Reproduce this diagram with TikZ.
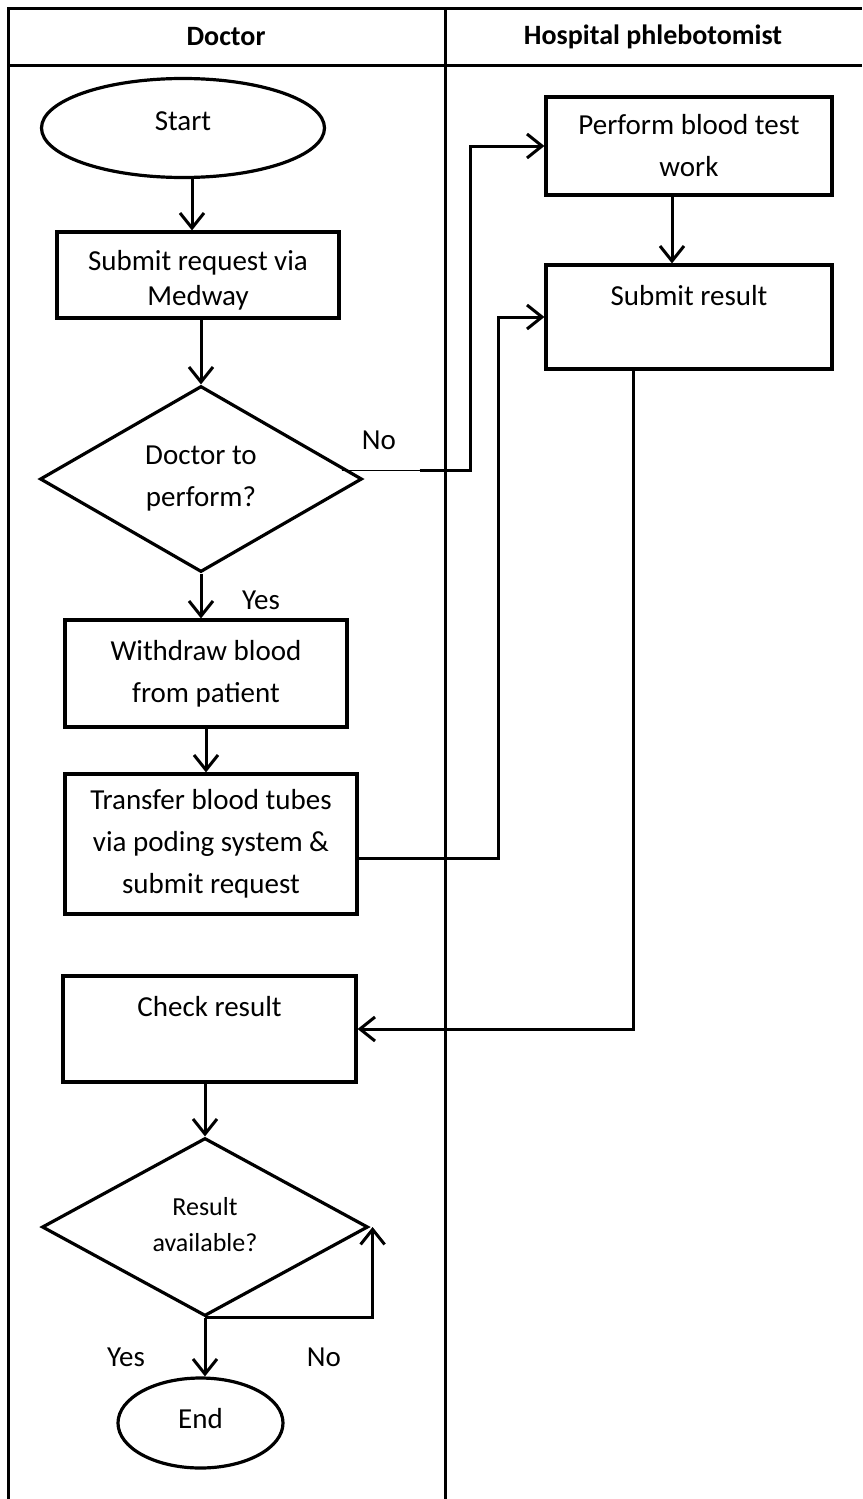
\documentclass[tikz,border=0pt]{standalone}
\usepackage{fontspec}
\setmainfont{Carlito}
\usetikzlibrary{shapes.geometric,arrows.meta,calc}
\begin{document}
\begin{tikzpicture}[x=1pt,y=-1pt,
  every node/.style={font=\fontsize{29}{42}\selectfont},
  box/.style={draw,line width=3.2pt,rectangle,inner sep=0pt,align=center},
  box1/.style={draw,line width=3.2pt,rectangle,inner sep=0pt},
  term/.style={draw,line width=3.2pt,ellipse,inner sep=0pt},
  decide/.style={draw,line width=3.2pt,diamond,inner sep=0pt,align=center},
  arr/.style={line width=3pt,-{Straight Barb[length=15pt,width=24pt]}},
  lane/.style={line width=3pt},
  lbl/.style={inner sep=0pt},
  hdr/.style={font=\fontsize{28}{34}\selectfont\bfseries}]
\useasboundingbox (0,0) rectangle (862,1499);

% swimlane table
\draw[lane] (8,1499) -- (8,8) -- (862,8);
\draw[lane] (445,8) -- (445,1499);
\draw[lane] (8,65) -- (862,65);
\node[hdr] (hdoc) at (226,37) {Doctor};
\node[hdr] (hphl) at (653,37) {Hospital phlebotomist};

% doctor lane
\node[term,minimum width=283pt,minimum height=99pt,text height=20pt,text depth=16pt] (start) at (183,128) {Start};
\node[box,minimum width=282pt,minimum height=86pt,font=\fontsize{29}{35}\selectfont] (submit) at (198,275) {\rule{0pt}{31pt}Submit request via\\Medway};
\node[decide,minimum width=322pt,minimum height=186pt,aspect=1.73] (dia1) at (201,479) {Doctor to\\perform?};
\node[box,minimum width=282pt,minimum height=107pt] (withdraw) at (206,673.5) {Withdraw blood\\from patient};
\node[box,minimum width=292pt,minimum height=140pt] (transfer) at (211,844) {Transfer blood tubes\\via poding system \&\\submit request};
\node[box1,minimum width=293pt,minimum height=106pt,text height=40pt,text depth=66pt] (check) at (209.5,1029) {Check result};
\node[decide,minimum width=326pt,minimum height=178pt,aspect=1.83,font=\fontsize{26}{36}\selectfont] (dia2) at (205,1227) {Result\\available?\rule[-6pt]{0pt}{6pt}};
\node[term,minimum width=165pt,minimum height=90pt,text height=20pt,text depth=10pt] (end) at (200.5,1423) {End};

% phlebotomist lane
\node[box,minimum width=286pt,minimum height=98pt] (perform) at (689,146) {Perform blood test\\work};
\node[box1,minimum width=286pt,minimum height=104pt,text height=40pt,text depth=64pt] (subres) at (689,317) {Submit result};

% labels
\node[lbl] (no1) at (379,440) {No};
\node[lbl] (yes1) at (261,600) {Yes};
\node[lbl] (yes2) at (126,1357) {Yes};
\node[lbl] (no2) at (324,1357) {No};

% connectors
\draw[arr] ([xshift=9pt]start.south) -- ([xshift=-6pt]submit.north);
\draw[arr] (submit.south -| dia1.north) -- (dia1.north);
\draw[arr] (dia1.south) -- (dia1.south |- withdraw.north);
\draw[arr] (withdraw.south) -- (withdraw.south |- transfer.north);
\coordinate (nostart) at ([xshift=-22pt,yshift=9pt]dia1.east);
\coordinate (noturn) at ([xshift=56pt,yshift=9pt]dia1.east);
\draw[line width=1pt] (nostart) -- (noturn);
\draw[arr] (noturn) -| ([xshift=-74pt]perform.west) -- (perform.west);
\draw[arr] ([yshift=-14pt]transfer.east) -| ([xshift=-46pt]subres.west) -- (subres.west);
\draw[arr] ([xshift=-17pt]perform.south) -- ([xshift=-17pt]subres.north);
\draw[arr] ([xshift=-56pt]subres.south) |- (check.east);
\draw[arr] (check.south -| dia2.north) -- (dia2.north);
\draw[arr] (dia2.south) -- (dia2.south |- end.north);
\draw[arr] (dia2.south) -| ([xshift=3pt]dia2.east);
\end{tikzpicture}
\end{document}
